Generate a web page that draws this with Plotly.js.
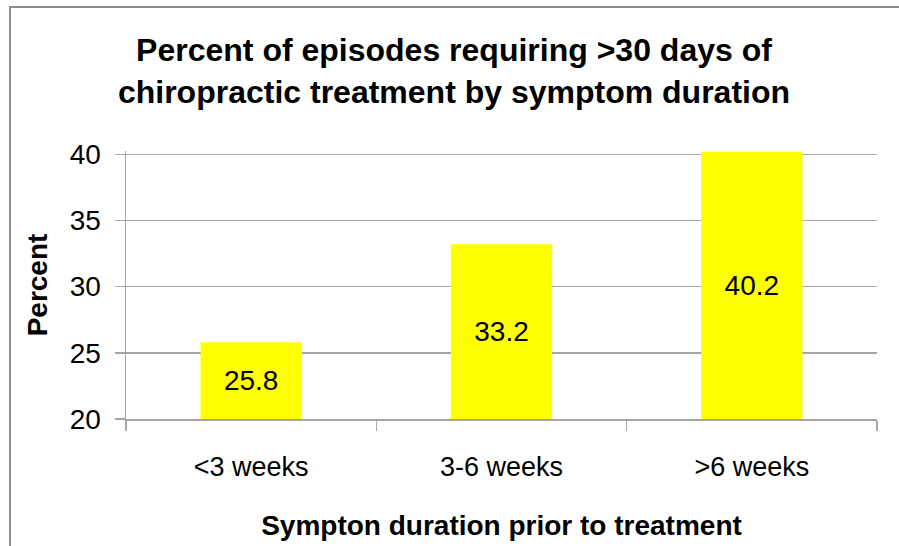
<!DOCTYPE html>
<html>
<head>
<meta charset="utf-8">
<script src="https://cdn.plot.ly/plotly-3.0.1.min.js"></script>
<style>
  html, body { margin: 0; padding: 0; background: #fff; }
  #wrap { position: relative; width: 899px; height: 546px; }
  #chart { width: 899px; height: 546px; }
  #frame { position: absolute; left: 9px; top: 6px; right: 0; bottom: 0;
           border-top: 2px solid #8c8c8c; border-left: 2px solid #8c8c8c;
           pointer-events: none; }
</style>
</head>
<body>
<div id="wrap">
  <div id="chart"></div>
  <div id="frame"></div>
</div>
<script>
const categories = ['<3 weeks', '3-6 weeks', '>6 weeks'];
const percentValues = [25.8, 33.2, 40.2];
const yTickValues = [20, 25, 30, 35, 40];
const axisBase = 20;
const chartTitle = 'Percent of episodes requiring >30 days of<br>chiropractic treatment by symptom duration';
const xTitle = 'Sympton duration prior to treatment';
const yTitle = 'Percent';

const font = 'Liberation Sans, Arial, sans-serif';

// bars start at the axis minimum (20) and end at each value
const trace = {
  type: 'bar',
  x: categories,
  base: axisBase,
  y: percentValues.map(v => v - axisBase),
  marker: { color: '#ffff00', line: { width: 0 } },
  text: percentValues.map(v => v.toFixed(1)),
  textposition: 'inside',
  insidetextanchor: 'middle',
  constraintext: 'none',
  textfont: { family: font, size: 28, color: '#000' },
  hoverinfo: 'x+text'
};

const layout = {
  width: 899,
  height: 546,
  margin: { l: 126, r: 22, t: 151, b: 127 },
  paper_bgcolor: '#fff',
  plot_bgcolor: '#fff',
  showlegend: false,
  bargap: 0.595,
  title: {
    text: chartTitle,
    font: { family: font, size: 32, color: '#000', weight: 'bold' },
    x: 0.505,
    xanchor: 'center',
    y: 0.888,
    yanchor: 'top'
  },
  xaxis: {
    type: 'category',
    showline: true,
    linecolor: '#a6a6a6',
    linewidth: 1.5,
    ticks: 'outside',
    tickson: 'boundaries',
    ticklen: 10,
    tickcolor: '#a6a6a6',
    tickwidth: 1.5,
    ticklabelstandoff: 23,
    tickfont: { family: font, size: 27, color: '#000' },
    showgrid: false,
    title: {
      text: xTitle,
      font: { family: font, size: 28, color: '#000', weight: 'bold' },
      standoff: 34
    }
  },
  yaxis: {
    range: [20, 40.25],
    tickvals: yTickValues,
    showline: true,
    linecolor: '#a6a6a6',
    linewidth: 1.5,
    ticks: 'outside',
    ticklen: 10,
    tickcolor: '#a6a6a6',
    tickwidth: 1.5,
    ticklabelstandoff: 8,
    tickfont: { family: font, size: 28, color: '#000' },
    showgrid: true,
    gridcolor: '#a6a6a6',
    gridwidth: 1.5,
    zeroline: false,
    title: {
      text: yTitle,
      font: { family: font, size: 28, color: '#000', weight: 'bold' },
      standoff: 14
    }
  }
};

Plotly.newPlot('chart', [trace], layout, { displayModeBar: false, staticPlot: true });
</script>
</body>
</html>
